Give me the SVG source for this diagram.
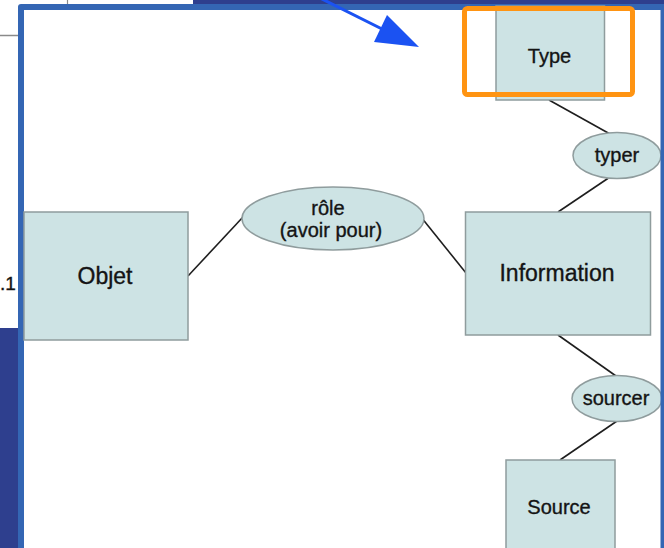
<svg xmlns="http://www.w3.org/2000/svg" width="664" height="548" viewBox="0 0 664 548">
<style>
.box{fill:#cde3e4;stroke:#8f9c9d;stroke-width:1.5}
.ell{fill:#cde3e4;stroke:#8f9c9d;stroke-width:1.5}
.lbl{font-family:"Liberation Sans",Arial,Helvetica,sans-serif;fill:#141414;stroke:#141414;stroke-width:0.35;text-anchor:middle}
.big{font-size:23px}
.sm{font-size:20px}
.conn line{stroke:#1e1e1e;stroke-width:1.6}
.frame{fill:#3466b4}
.dark{fill:#2e3f8e}
</style>
<!-- background -->
<rect x="0" y="0" width="664" height="548" fill="#ffffff"/>
<g id="background">
<rect class="dark" x="193" y="0" width="471" height="5"/>
<rect class="dark" x="0" y="328" width="20" height="220"/>
<line x1="0" y1="35.5" x2="18" y2="35.5" stroke="#8a8a8a" stroke-width="1.5"/>
<line x1="67.5" y1="0" x2="67.5" y2="4" stroke="#8a8a8a" stroke-width="1.2"/>
<text class="lbl" x="0" y="290" style="text-anchor:start;font-size:19px">.1</text>
</g>
<!-- frame -->
<g id="frame">
<path class="frame" d="M18,548 L18,7 Q18,4 21,4 L664,4 L664,10 L24,10 L24,548 Z"/>
</g>
<!-- connectors -->
<g id="connectors" class="conn">
<line x1="549" y1="100" x2="610" y2="134"/>
<line x1="610" y1="177" x2="558" y2="212"/>
<line x1="188" y1="276" x2="243" y2="217"/>
<line x1="421" y1="217" x2="466" y2="273"/>
<line x1="558" y1="335" x2="616" y2="376"/>
<line x1="617" y1="421" x2="560" y2="460"/>
</g>
<!-- nodes -->
<g id="node-type">
<rect class="box" x="496" y="6" width="108.5" height="94"/>
<text class="lbl sm" x="549.5" y="63">Type</text>
</g>
<g id="node-typer">
<ellipse class="ell" cx="617" cy="155.5" rx="44" ry="23"/>
<text class="lbl sm" x="617" y="162">typer</text>
</g>
<g id="node-objet">
<rect class="box" x="24" y="212" width="164" height="128"/>
<text class="lbl big" x="105" y="284">Objet</text>
</g>
<g id="node-role">
<ellipse class="ell" cx="333" cy="218.5" rx="91" ry="31.5"/>
<text class="lbl sm" x="328" y="215">rôle</text>
<text class="lbl sm" x="331" y="237">(avoir pour)</text>
</g>
<g id="node-information">
<rect class="box" x="465.5" y="212" width="185" height="123"/>
<text class="lbl big" x="557" y="281">Information</text>
</g>
<g id="node-sourcer">
<ellipse class="ell" cx="617" cy="398.5" rx="45" ry="23"/>
<text class="lbl sm" x="616" y="405">sourcer</text>
</g>
<g id="node-source">
<rect class="box" x="506" y="460" width="109" height="95"/>
<text class="lbl sm" x="559" y="514">Source</text>
</g>
<!-- right border over content -->
<rect class="frame" x="660.5" y="4" width="3.5" height="544"/>
<!-- highlight -->
<g id="highlight">
<rect x="464.5" y="8.5" width="168" height="86" rx="3" fill="none" stroke="#ff9412" stroke-width="5"/>
</g>
<g id="pointer">
<line x1="320" y1="-2" x2="410" y2="43" stroke="#1b52f2" stroke-width="3"/>
<path d="M419,47 L374,42 L387,15 Z" fill="#1b52f2"/>
</g>
</svg>
